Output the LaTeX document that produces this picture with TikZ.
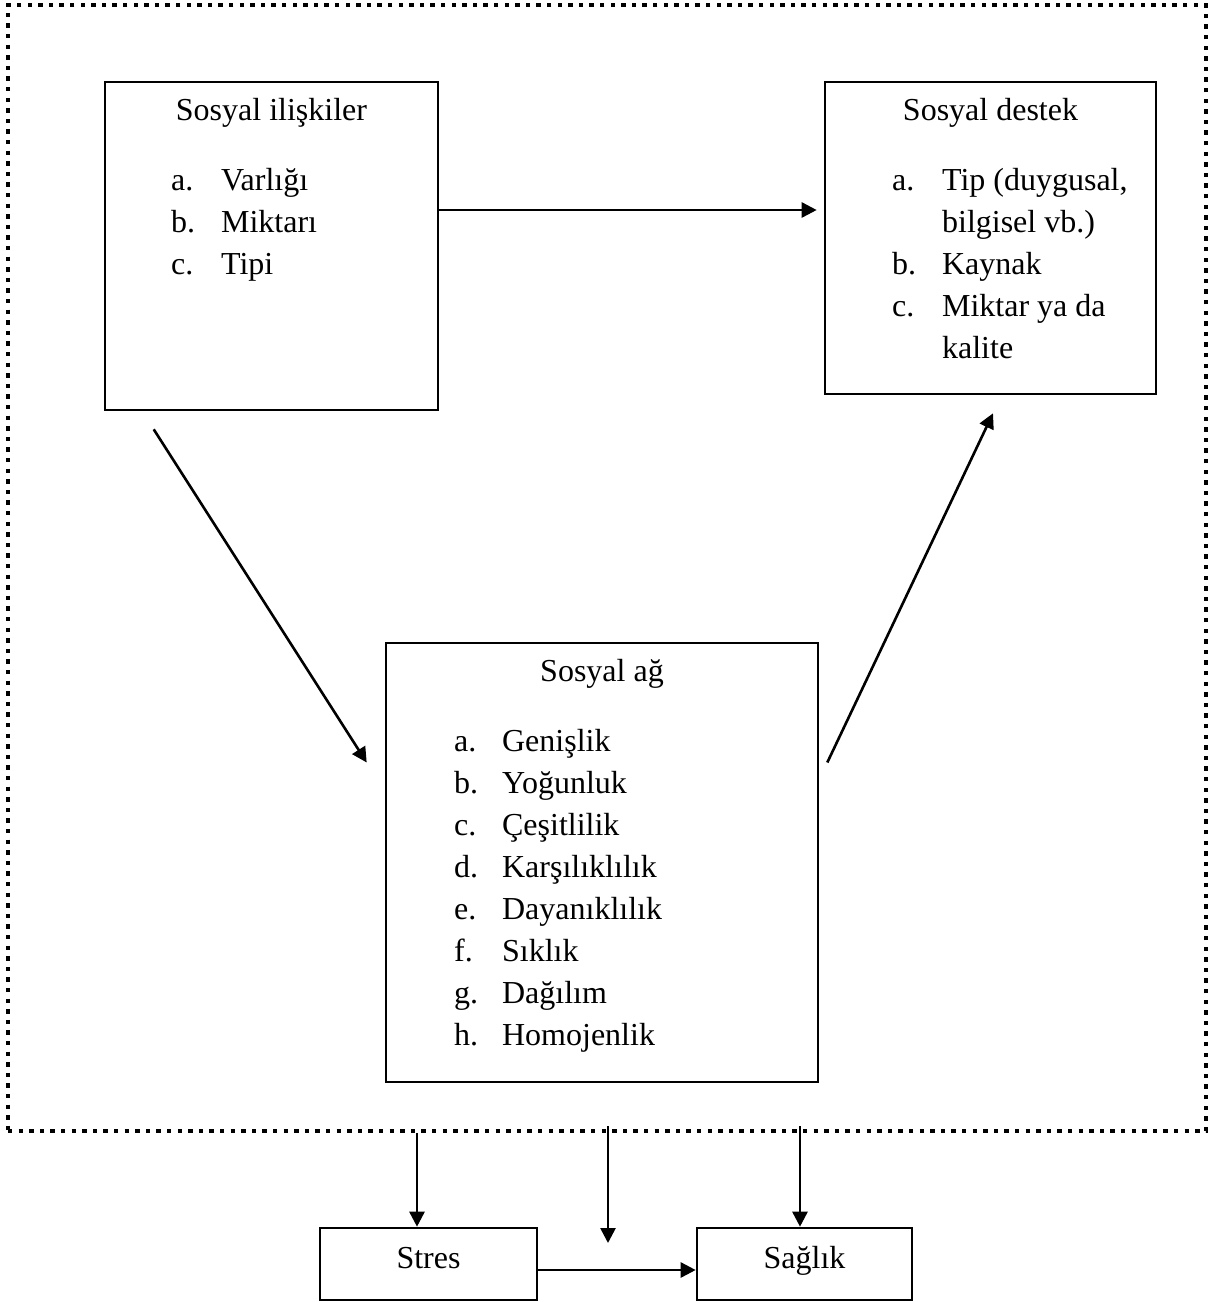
\documentclass[tikz,border=0pt]{standalone}
\usepackage{fontspec}
\setmainfont{Liberation Serif}
\usetikzlibrary{arrows.meta, positioning}

\begin{document}
\begin{tikzpicture}[x=0.5pt, y=-0.5pt, font=\fontsize{16}{21}\selectfont,
    kutu/.style={rectangle, draw, line width=1.3pt, inner sep=0pt},
    baslik/.style={anchor=base, inner sep=0pt},
    liste/.style={anchor=base west, inner sep=0pt, align=left},
    ok/.style={draw, line width=1.3pt, -{Triangle[length=7.5pt, width=7.5pt]}},
    cerceve/.style={rectangle, draw, line width=2.2pt, dash pattern=on 2.2pt off 3.1pt, inner sep=0pt}]

    \useasboundingbox (0,0) rectangle (1214,1302);

    \node [cerceve, minimum width=599pt, minimum height=563pt] (cer) at (607,568) {};

    \node [kutu, minimum width=166.5pt, minimum height=164pt] (sil) at (271.5,246) {};
    \node [kutu, minimum width=165.5pt, minimum height=156pt] (sd) at (990.5,238) {};
    \node [kutu, minimum width=216pt, minimum height=219.5pt] (ag) at (602,862.5) {};
    \node [kutu, minimum width=108.5pt, minimum height=36pt, text height=12pt, text depth=8pt] (stres) at (428.5,1264) {Stres};
    \node [kutu, minimum width=107.5pt, minimum height=36pt, text height=12pt, text depth=8pt] (saglik) at (804.5,1264) {Sağlık};

    \node [baslik] (sil-b) at ([yshift=-20pt]sil.north) {Sosyal ilişkiler};
    \node [liste] (sil-l) at ([xshift=33.5pt, yshift=-55pt]sil.north west)
        {\begin{tabular}[t]{@{}p{25pt}@{}l@{}}
            a. & Varlığı\\
            b. & Miktarı\\
            c. & Tipi
        \end{tabular}};

    \node [baslik] (sd-b) at ([yshift=-20pt]sd.north) {Sosyal destek};
    \node [liste] (sd-l) at ([xshift=34pt, yshift=-55pt]sd.north west)
        {\begin{tabular}[t]{@{}p{25pt}@{}l@{}}
            a. & Tip (duygusal,\\
               & bilgisel vb.)\\
            b. & Kaynak\\
            c. & Miktar ya da\\
               & kalite
        \end{tabular}};

    \node [baslik] (ag-b) at ([yshift=-20pt]ag.north) {Sosyal ağ};
    \node [liste] (ag-l) at ([xshift=34.5pt, yshift=-55pt]ag.north west)
        {\begin{tabular}[t]{@{}p{24pt}@{}l@{}}
            a. & Genişlik\\
            b. & Yoğunluk\\
            c. & Çeşitlilik\\
            d. & Karşılıklılık\\
            e. & Dayanıklılık\\
            f. & Sıklık\\
            g. & Dağılım\\
            h. & Homojenlik
        \end{tabular}};

    \coordinate (s1) at ([xshift=-5.75pt]stres.north);
    \coordinate (s2) at ([xshift=-2.25pt]saglik.north);
    \coordinate (orta) at (608,1243);

    \path [ok] ([yshift=18pt]sil.east) -- ([yshift=18pt]sil.east -| sd.west)
        [shorten >=3.5pt];
    \path [ok] ([xshift=25pt, yshift=-9pt]sil.south west) -- ([xshift=-9pt, yshift=50pt]ag.west);
    \path [ok] ([xshift=4pt, yshift=50pt]ag.east) -- ([xshift=1.25pt, yshift=-9pt]sd.south);
    \path [ok] (s1 |- cer.south) -- (s1);
    \path [ok] ([yshift=3.5pt]orta |- cer.south) -- (orta);
    \path [ok] ([yshift=3.5pt]s2 |- cer.south) -- (s2);
    \path [ok] ([yshift=-3pt]stres.east) -- ([yshift=-3pt]saglik.west);
\end{tikzpicture}
\end{document}
